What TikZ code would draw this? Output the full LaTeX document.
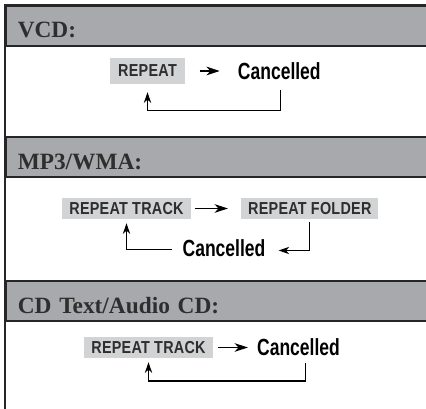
\documentclass[tikz,border=0pt]{standalone}
\usepackage{fontspec}
\setmainfont{Liberation Serif}
\newfontfamily\keyfont[FakeStretch=0.83, LetterSpace=1.5]{Liberation Sans}
\newfontfamily\cancelfont[FakeStretch=0.75]{Liberation Sans}
\usetikzlibrary{arrows.meta,positioning,calc}
\definecolor{bandgray}{HTML}{A7A9AC}
\definecolor{keygray}{HTML}{D1D3D4}
\definecolor{inkgray}{HTML}{2E2E2E}
\definecolor{framegray}{HTML}{262626}

\begin{document}
\begin{tikzpicture}[
        x=0.75pt,
        y=-0.75pt,
        headBand/.style={
            draw=framegray,
            line width=1.2pt,
            fill=bandgray,
            anchor=north west,
            text width=300pt,
            inner xsep=9pt,
            inner ysep=0pt,
            minimum height=30pt,
            text height=18pt,
            text depth=0pt,
            align=left,
            font=\bfseries\fontsize{17.5}{20}\selectfont,
            text=inkgray
        },
        keyBox/.style={
            fill=keygray,
            inner xsep=5.25pt,
            inner ysep=0pt,
            minimum height=15.75pt,
            font=\keyfont\bfseries\fontsize{13}{15}\selectfont,
            text=inkgray
        },
        cancelText/.style={
            inner sep=0pt,
            font=\cancelfont\bfseries\fontsize{17.5}{20}\selectfont
        },
        flow/.style={
            -{Stealth[length=10pt,width=6.5pt,inset=3pt]},
            line width=0.9pt
        },
        returnLine/.style={
            -{Stealth[length=8pt,width=5.5pt,inset=2.5pt]},
            line width=0.9pt
        },
        frameLine/.style={
            line width=1.5pt,
            draw=framegray
        }
    ]

        \useasboundingbox (0,0) rectangle (426,409);

        % Section headers
        \node[headBand] (vcdHead) at (5,5) {VCD:};
        \node[headBand] (mp3Head) at (5,136.5) {MP3/WMA:};
        \node[headBand] (cdHead) at (5,280.5) {CD Text/Audio CD:};

        % Outer frame
        \draw[frameLine] (5,409) -- (5,5) -- (430,5);

        % VCD
        \node[keyBox, minimum height=19.5pt, inner xsep=6.5pt] (vcdRep) at (147.5,71) {REPEAT};
        \node[cancelText, right=39pt of vcdRep] (vcdCan) {Cancelled};

        \draw[flow, shorten <=10.5pt, shorten >=13.5pt] (vcdRep) -- (vcdCan);
        \draw[returnLine]
            ([xshift=0.75pt, yshift=-8pt]vcdCan.south)
            -- ++(0,20)
            -| ([yshift=-6pt]vcdRep.south);

        % MP3/WMA
        \node[keyBox] (mp3Trk) at (126.5,208.5) {REPEAT TRACK};
        \node[keyBox, right=37.5pt of mp3Trk] (mp3Fld) {REPEAT FOLDER};
        \node[cancelText] (mp3Can) at (224,248.5) {Cancelled};

        \draw[flow, shorten <=3pt, shorten >=9.75pt] (mp3Trk) -- (mp3Fld);
        \draw[returnLine]
            ([yshift=-2.25pt]mp3Fld.south)
            |- ([xshift=9.75pt, yshift=-1.5pt]mp3Can.east);
        \draw[returnLine]
            ([xshift=-7.5pt, yshift=-0.75pt]mp3Can.west)
            -| ([yshift=-3pt]mp3Trk.south);

        % CD Text/Audio CD
        \node[keyBox] (cdTrk) at (148.5,347.5) {REPEAT TRACK};
        \node[cancelText, right=33pt of cdTrk] (cdCan) {Cancelled};

        \draw[flow, shorten <=3.75pt, shorten >=6.75pt] (cdTrk) -- (cdCan);
        \draw[returnLine]
            ([xshift=5.5pt, yshift=-5pt]cdCan.south)
            -- ++(0,18)
            -| ([yshift=-3pt]cdTrk.south);

    \end{tikzpicture}
\end{document}
